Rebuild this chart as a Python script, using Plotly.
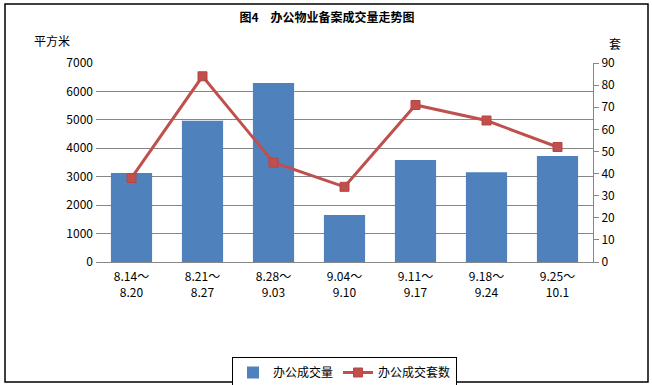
import plotly.graph_objects as go

categories = ["8.14～<br>8.20", "8.21～<br>8.27", "8.28～<br>9.03", "9.04～<br>9.10",
              "9.11～<br>9.17", "9.18～<br>9.24", "9.25～<br>10.1"]
area_values = [3130, 4970, 6300, 1650, 3590, 3160, 3730]
count_values = [38, 84, 45, 34, 71, 64, 52]

W, H = 652, 385
L, R, T, B = 96, 59, 63, 123
pw, ph = W - L - R, H - T - B

def px_x(x):
    return (x - L) / pw

def px_y(y):
    return (H - B - y) / ph

font = "Noto Sans CJK SC, SimSun, sans-serif"

fig = go.Figure()
fig.add_trace(go.Bar(x=categories, y=area_values, name="办公成交量",
                     marker=dict(color="#4F81BD", line=dict(width=0)), yaxis="y"))
fig.add_trace(go.Scatter(x=categories, y=count_values, name="办公成交套数", mode="lines+markers",
                         line=dict(color="#C0504D", width=3),
                         marker=dict(symbol="square", size=9, color="#C0504D",
                                     line=dict(color="#B84541", width=1)),
                         yaxis="y2"))

fig.update_layout(
    width=W, height=H,
    margin=dict(l=L, r=R, t=T, b=B, autoexpand=False),
    paper_bgcolor="white", plot_bgcolor="white",
    font=dict(family=font, size=12, color="black"),
    bargap=0.42,
    title=dict(text="<b>图4　办公物业备案成交量走势图</b>", x=0.5015, xanchor="center",
               y=1 - 18 / H, yanchor="middle", font=dict(size=12, family=font)),
    xaxis=dict(showgrid=False, showline=True, linecolor="#868686", linewidth=1,
               ticks="", tickfont=dict(size=12), zeroline=False, ticklabelstandoff=4),
    yaxis=dict(range=[0, 7000], dtick=1000, showgrid=True, gridcolor="#868686", gridwidth=1,
               showline=False, ticks="", zeroline=False, tickfont=dict(size=12),
               ticklabelstandoff=2),
    yaxis2=dict(range=[0, 90], dtick=10, overlaying="y", side="right", showgrid=False,
                showline=True, linecolor="#868686", ticks="outside", ticklen=5,
                tickcolor="#868686", zeroline=False, tickfont=dict(size=12)),
    legend=dict(orientation="h", xref="container", yref="container",
                x=232 / W, y=1 - 357 / H, xanchor="left", yanchor="top",
                bordercolor="black", borderwidth=1, font=dict(size=12), bgcolor="white",
                itemwidth=30, traceorder="normal", tracegroupgap=0),
    showlegend=True,
    annotations=[
        dict(text="平方米", xref="paper", yref="paper", x=px_x(52), y=px_y(41),
             xanchor="center", yanchor="middle", showarrow=False, font=dict(size=12)),
        dict(text="套", xref="paper", yref="paper", x=px_x(615), y=px_y(43),
             xanchor="center", yanchor="middle", showarrow=False, font=dict(size=12)),
    ],
    shapes=[
        dict(type="rect", xref="paper", yref="paper", x0=px_x(5), x1=px_x(648),
             y0=px_y(382), y1=px_y(4), line=dict(color="black", width=1.5), layer="below"),
    ],
)

fig.write_html("out.html", config={"displayModeBar": False},
               post_script="document.body.style.margin='0';document.body.style.overflow='hidden';")
